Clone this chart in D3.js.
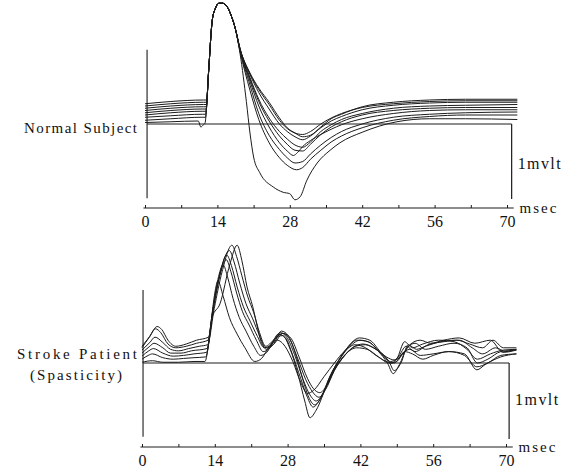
<!DOCTYPE html>
<html><head><meta charset="utf-8">
<script src="https://cdn.jsdelivr.net/npm/d3@7/dist/d3.min.js"></script>
<style>body{margin:0;background:#fff}svg{display:block}</style>
</head><body><svg id="c" width="577" height="470"></svg>
<script>
// ---------- DATA (time in msec, amplitude in mV) ----------
const tickValues = [0, 7, 14, 21, 28, 35, 42, 49, 56, 63, 70];
const tickLabels = [0, 14, 28, 42, 56, 70];
const panelLabels = ["Normal Subject", "Stroke Patient", "(Spasticity)"];
const unitX = "msec";
const unitY = "1mvlt";

// Normal subject: shared M-wave peak (all traces overlap here)
const normalPeak = [[12.3,0.7],[13.0,1.38],[13.6,1.54],[14.3,1.61],[15.0,1.61],[16.0,1.55],[16.8,1.42],[17.4,1.29]];
const normalPre = [
  [[0,0.27],[5,0.3],[11.3,0.32],[11.92,0.32]],
  [[0,0.24],[5,0.27],[11.3,0.29],[11.89,0.29]],
  [[0,0.21],[5,0.24],[11.3,0.26],[11.86,0.26]],
  [[0,0.18],[5,0.21],[11.3,0.23],[11.83,0.23]],
  [[0,0.15],[5,0.18],[11.2,0.2],[11.8,0.2]],
  [[0,0.12],[5,0.15],[11.2,0.17],[11.77,0.17]],
  [[0,0.09],[5,0.11],[11.1,0.13],[11.73,0.13]],
  [[0,0.05],[5,0.07],[11.0,0.09],[11.69,0.09]],
  [[0,0.02],[5,0.03],[10.3,0.04],[10.8,-0.04],[11.3,-0.01],[11.6,0.01]]
];
const normalPost = [
  [[18.4,1.0],[20.3,0.68],[22,0.48],[24,0.29],[26,0.08],[27.5,-0.05],[29,-0.12],[30.5,-0.17],[32,-0.15],[34,-0.04],[36,0.07],[38,0.13],[42,0.23],[48,0.29],[55,0.32],[62,0.33],[72,0.33]],
  [[18.4,1.0],[20.3,0.67],[22,0.46],[24,0.26],[26,0.05],[27.5,-0.06],[29,-0.12],[30.5,-0.14],[32,-0.1],[34,0.0],[36,0.08],[38,0.14],[42,0.22],[48,0.27],[55,0.3],[62,0.31],[72,0.31]],
  [[18.4,0.99],[20.3,0.66],[22,0.42],[24,0.2],[26,0.0],[27.5,-0.1],[29,-0.17],[30.5,-0.21],[32,-0.16],[34,-0.05],[36,0.04],[38,0.1],[42,0.19],[48,0.25],[55,0.28],[62,0.29],[72,0.29]],
  [[18.4,0.99],[20.3,0.62],[22,0.33],[24,0.08],[26,-0.1],[27.5,-0.2],[29,-0.28],[30.5,-0.31],[32,-0.24],[34,-0.1],[36,-0.01],[38,0.06],[42,0.14],[48,0.21],[55,0.24],[62,0.25],[72,0.26]],
  [[18.4,0.98],[20.3,0.6],[22,0.3],[24,0.04],[26,-0.16],[27.5,-0.27],[29,-0.35],[30.5,-0.36],[32,-0.27],[34,-0.14],[36,-0.04],[38,0.03],[42,0.12],[48,0.18],[55,0.21],[62,0.22],[72,0.22]],
  [[18.4,0.98],[20.3,0.57],[22,0.24],[24,-0.04],[26,-0.25],[27.5,-0.36],[28.7,-0.42],[29.5,-0.38],[30.5,-0.3],[32,-0.22],[34,-0.14],[36,-0.07],[38,-0.01],[42,0.07],[48,0.14],[55,0.18],[62,0.19],[72,0.19]],
  [[18.4,0.97],[20.3,0.52],[22,0.14],[24,-0.15],[26,-0.34],[27.5,-0.45],[29,-0.52],[30.5,-0.5],[32,-0.4],[34,-0.28],[36,-0.18],[38,-0.1],[42,0.0],[48,0.09],[55,0.13],[62,0.15],[72,0.16]],
  [[18.4,0.96],[20.3,0.45],[22,0.06],[24,-0.25],[26,-0.45],[27.5,-0.55],[29.3,-0.61],[30.5,-0.58],[32,-0.47],[34,-0.35],[36,-0.24],[38,-0.16],[42,-0.05],[48,0.05],[55,0.1],[62,0.12],[72,0.12]],
  [[18.4,0.93],[19.6,0.3],[20.3,-0.12],[21,-0.44],[22.2,-0.65],[24.8,-0.84],[26.7,-0.91],[28,-0.93],[29,-1.01],[30,-0.97],[31.3,-0.75],[33.3,-0.52],[35.8,-0.35],[37.7,-0.25],[42,-0.11],[48.7,0.03],[55,0.07],[62,0.07],[72,0.06]]
];

// Stroke patient: seven traces
const stroke1 = [[0,0.01],[2,0.03],[4,0.01],[7,0.01],[10,0.02],[12.1,0.02],[13.3,0.55],[14.0,0.92],[14.6,1.08],[15.6,0.88],[16.8,0.6],[18.3,0.38],[19.8,0.2],[21.7,0.02],[23,0.06],[24.5,0.22],[26,0.3],[27.5,0.22],[29,0.02],[30.5,-0.25],[31.8,-0.4],[33,-0.36],[35,-0.18],[37,0.0],[39,0.16],[41,0.24],[43,0.2],[45,0.1],[47,0.02],[48.5,0.0],[50,0.12],[51.5,0.18],[53.5,0.1],[56,0.12],[59,0.15],[62,0.1],[64.4,-0.05],[66.5,0.0],[69,0.1],[72,0.12]];
const stroke2 = [[0,0.05],[1.2,0.1],[2,0.12],[4,0.07],[6,0.05],[8,0.06],[10,0.07],[12.25,0.08],[13.6,0.7],[14.6,1.1],[15.6,1.29],[16.5,1.12],[17.5,0.85],[18.7,0.6],[20,0.42],[21.5,0.22],[22.8,0.1],[24,0.14],[25.5,0.32],[27,0.36],[28.5,0.18],[30,-0.15],[31.3,-0.5],[32.3,-0.72],[33.5,-0.62],[35.5,-0.3],[37.5,0.0],[39.5,0.2],[41.3,0.3],[43.5,0.28],[45.5,0.15],[47.2,0.0],[48.3,-0.14],[49.5,-0.02],[51,0.2],[52.5,0.26],[54.5,0.18],[57,0.22],[60,0.26],[62.5,0.2],[64.5,0.0],[66.5,0.05],[69,0.15],[72,0.17]];
const stroke3 = [[0,0.09],[1.3,0.16],[2.2,0.19],[4,0.13],[6,0.09],[8,0.1],[10,0.12],[12.4,0.14],[13.7,0.72],[14.8,1.1],[16.2,1.36],[17.1,1.2],[18.2,0.92],[19.3,0.68],[20.6,0.5],[22,0.3],[23.3,0.15],[24.6,0.2],[26.2,0.38],[27.6,0.33],[29,0.1],[30.5,-0.2],[31.8,-0.45],[32.9,-0.58],[34.2,-0.48],[36,-0.2],[38,0.05],[40,0.22],[42,0.3],[44,0.26],[46,0.12],[47.8,0.02],[49,0.06],[50.5,0.28],[52,0.2],[54,0.25],[57,0.3],[60,0.28],[62.5,0.18],[64.5,0.05],[67,0.12],[69.5,0.17],[72,0.18]];
const stroke4 = [[0,0.13],[1.5,0.22],[2.3,0.26],[4,0.2],[5.5,0.13],[7.5,0.13],[9.5,0.16],[12.5,0.19],[13.7,0.72],[14.9,1.15],[16.3,1.42],[17.2,1.28],[18.3,1.0],[19.5,0.74],[20.8,0.55],[22.2,0.35],[23.5,0.2],[25,0.25],[26.6,0.4],[28,0.32],[29.5,0.08],[31,-0.22],[32.3,-0.42],[33.5,-0.5],[34.8,-0.4],[36.5,-0.15],[38.5,0.06],[40.5,0.2],[42.5,0.25],[44.5,0.2],[46.5,0.1],[48,0.0],[49.3,0.08],[50.8,0.22],[52.5,0.15],[55,0.24],[58,0.28],[61,0.3],[63.5,0.2],[65.5,0.12],[68,0.2],[70,0.15],[72,0.18]];
const stroke5 = [[0,0.17],[1.5,0.27],[2.5,0.34],[4,0.27],[5.5,0.18],[7,0.16],[9,0.19],[11,0.22],[12.6,0.24],[13.9,0.72],[15.4,1.2],[17.3,1.55],[18.2,1.4],[19.2,1.15],[20.3,0.88],[21.5,0.66],[22.6,0.4],[23.8,0.22],[25.3,0.3],[27,0.39],[28.5,0.3],[30,0.05],[31.5,-0.22],[32.8,-0.38],[34,-0.45],[35.3,-0.35],[37,-0.1],[39,0.1],[41,0.22],[43,0.24],[45,0.18],[47,0.08],[48.5,0.04],[50,0.1],[51.5,0.24],[53.5,0.3],[55.5,0.26],[58,0.3],[61,0.33],[64,0.26],[67,0.3],[69.4,0.14],[72,0.17]];
const stroke6 = [[0,0.2],[1.3,0.33],[2.6,0.45],[3.6,0.4],[5,0.25],[6.5,0.2],[8.5,0.22],[10.5,0.26],[12.7,0.3],[13.5,0.6],[15.0,0.78],[16.9,1.3],[18.3,1.55],[19.2,1.35],[20.2,1.0],[21.3,0.74],[22.1,0.5],[22.8,0.3],[24,0.18],[25.5,0.26],[27.1,0.39],[28.7,0.32],[30.2,0.08],[31.8,-0.2],[33,-0.34],[34.2,-0.39],[35.5,-0.3],[37.3,-0.05],[39.2,0.12],[41.3,0.2],[43.3,0.18],[45.5,0.08],[47.5,0.0],[49,0.02],[50.5,0.15],[52,0.12],[54,0.05],[56,0.1],[59,0.15],[62,0.12],[64.4,-0.09],[66,-0.02],[69,0.08],[72,0.12]];
const stroke7 = [[0,0.22],[1.5,0.35],[2.9,0.48],[3.8,0.44],[5,0.3],[6.5,0.22],[8.5,0.25],[10.5,0.3],[12.8,0.34],[13.8,0.75],[15.1,1.2],[16.8,1.48],[17.7,1.33],[18.8,1.05],[20,0.78],[21.3,0.58],[22.6,0.36],[23.8,0.2],[25.2,0.24],[26.8,0.42],[28.2,0.35],[29.7,0.08],[31.2,-0.28],[32.2,-0.47],[33.2,-0.55],[34.5,-0.45],[36.3,-0.15],[38.3,0.08],[40.2,0.26],[41.8,0.33],[43.8,0.3],[45.8,0.15],[47.5,0.02],[48.5,-0.1],[49.8,0.0],[51.2,0.24],[52.8,0.18],[54.5,0.22],[57.5,0.28],[60.5,0.3],[63,0.25],[65.5,0.2],[67.5,0.3],[69.5,0.2],[72,0.2]];

// ---------- DRAW ----------
const svg = d3.select("#c");
const ink = "#1c1c1c";
const serif = '"Liberation Serif", "DejaVu Serif", serif';
const normalTraces = normalPre.map((p, i) => p.concat(normalPeak, normalPost[i]));
const strokeTraces = [stroke1, stroke2, stroke3, stroke4, stroke5, stroke6, stroke7];

const panels = [
  {traces: normalTraces, x: d3.scaleLinear().domain([0,70]).range([145,507]),
   y: d3.scaleLinear().domain([0,1]).range([124,49]), axisY: 208, vx0: 0.4, vTop: 0.99, vBot: -0.99,
   labels: [{t: panelLabels[0], x: 24, y: 133, len: 113}], unitYv: -0.6, barT: 70.9},
  {traces: strokeTraces, x: d3.scaleLinear().domain([0,70]).range([142,506]),
   y: d3.scaleLinear().domain([0,1]).range([363,287]), axisY: 447, vx0: 0.2, vTop: 0.96, vBot: -0.97,
   labels: [{t: panelLabels[1], x: 17, y: 359, len: 120}, {t: panelLabels[2], x: 30, y: 380, len: 92}], unitYv: -0.55, barT: 70.6}
];

function txt(g) {
  return g.append("text").style("font-family", serif).attr("fill", "#111");
}

panels.forEach(P => {
  const g = svg.append("g");
  const line = d3.line().x(d => P.x(d[0])).y(d => P.y(d[1])).curve(d3.curveMonotoneX);
  g.append("line").attr("x1", P.x(P.vx0)).attr("x2", P.x(P.barT)).attr("y1", P.y(0)).attr("y2", P.y(0))
    .attr("stroke", ink).attr("stroke-width", 1);
  g.append("line").attr("x1", P.x(P.vx0)).attr("x2", P.x(P.vx0)).attr("y1", P.y(P.vTop)).attr("y2", P.y(P.vBot))
    .attr("stroke", ink).attr("stroke-width", 1.1);
  g.append("line").attr("x1", P.x(P.barT)).attr("x2", P.x(P.barT)).attr("y1", P.y(0)).attr("y2", P.y(-1))
    .attr("stroke", ink).attr("stroke-width", 1.2);
  txt(g).attr("x", P.x(P.barT) + 6).attr("y", P.y(P.unitYv)).attr("font-size", 16)
    .attr("textLength", 43).attr("lengthAdjust", "spacing").text(unitY);
  g.selectAll("path.tr").data(P.traces).join("path").attr("class", "tr")
    .attr("d", line).attr("fill", "none").attr("stroke", ink).attr("stroke-width", 1)
    .attr("stroke-linejoin", "round");
  const ax = d3.axisBottom(P.x).tickValues(tickValues).tickSize(-3).tickSizeOuter(0).tickPadding(8)
    .tickFormat(d => tickLabels.includes(d) ? d : "");
  const axg = g.append("g").attr("transform", `translate(0,${P.axisY})`).call(ax);
  axg.select(".domain").remove();
  axg.append("line").attr("x1", P.x(-0.3)).attr("x2", P.x(71.3)).attr("y1", 0).attr("y2", 0)
    .attr("stroke", ink).attr("stroke-width", 1.1);
  axg.selectAll(".tick line").attr("stroke", ink);
  axg.selectAll(".tick text").attr("font-size", 16).attr("fill", "#111").style("font-family", serif);
  txt(g).attr("x", P.x(72.4)).attr("y", P.axisY + 5).attr("font-size", 15)
    .attr("textLength", 37).attr("lengthAdjust", "spacing").text(unitX);
  P.labels.forEach(L => {
    txt(g).attr("x", L.x).attr("y", L.y).attr("font-size", 15)
      .attr("textLength", L.len).attr("lengthAdjust", "spacing").text(L.t);
  });
});
</script></body></html>
